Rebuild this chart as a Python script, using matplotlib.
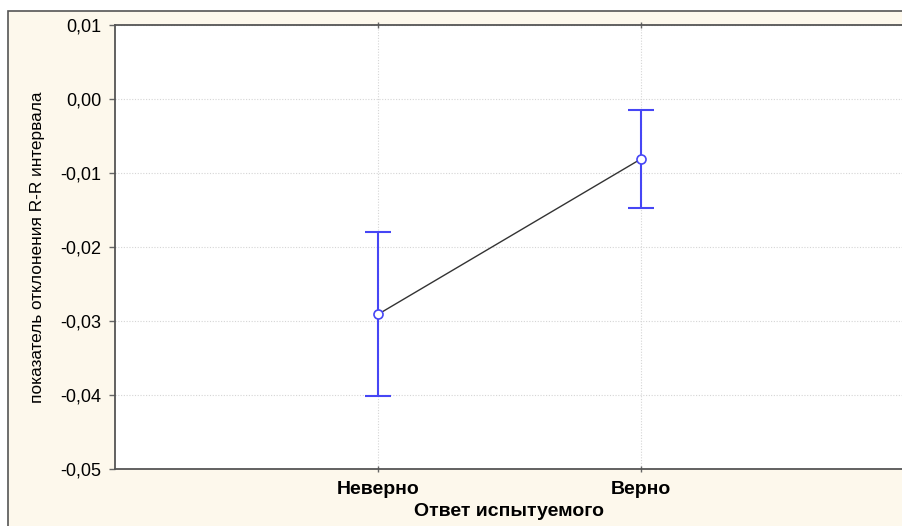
import matplotlib
matplotlib.use("Agg")
import matplotlib.pyplot as plt
from matplotlib.patches import Rectangle

categories = ["Неверно", "Верно"]
means = [-0.0291, -0.0081]
err_low = [0.0110, 0.0066]
err_high = [0.0111, 0.0066]
yticks = [0.01, 0.00, -0.01, -0.02, -0.03, -0.04, -0.05]
ytick_labels = ["0,01", "0,00", "-0,01", "-0,02", "-0,03", "-0,04", "-0,05"]
xlabel = "Ответ испытуемого"
ylabel = "показатель отклонения R-R интервала"

plt.rcParams['font.family'] = ['Liberation Sans', 'DejaVu Sans']

W, H = 903, 526
fig = plt.figure(figsize=(W / 100, H / 100), dpi=100, facecolor="white")
# cream panel with border
fig.patches.append(Rectangle((8 / W, -0.05), 1.1, 1 - 11 / H + 0.05,
                             transform=fig.transFigure, facecolor="#fdf8ec",
                             edgecolor="#555555", linewidth=1.2, zorder=-5))

ax = fig.add_axes([115 / W, 1 - 469 / H, (904 - 115) / W, (469 - 25) / H])
ax.set_zorder(1)
ax.set_facecolor("white")

x = list(range(1, len(categories) + 1))
ax.plot(x, means, color="#333333", linewidth=1.0, zorder=2)
ax.errorbar(x, means, yerr=[err_low, err_high], fmt="none", ecolor="#4646f5",
            elinewidth=1.5, capsize=9.7, capthick=1.5, zorder=3)
ax.plot(x, means, linestyle="none", marker="o", markersize=6.5,
        markerfacecolor="white", markeredgecolor="#4646f5", markeredgewidth=1.2, zorder=4)

ax.set_xlim(0, 3)
ax.set_ylim(-0.05, 0.01)
ax.set_xticks(x)
ax.set_xticklabels(categories, fontsize=14, fontweight="bold")
ax.set_yticks(yticks)
ax.set_yticklabels(ytick_labels, fontsize=13)
ax.tick_params(axis="y", direction="out", length=4, width=1, color="#666666", pad=6, right=True)
ax.tick_params(axis="x", direction="inout", length=4, width=1, color="#666666", pad=7, top=True)

ax.grid(True, color="#d5d5d5", linestyle=(0, (1, 1.5)), linewidth=0.8)
ax.set_axisbelow(True)
for s in ax.spines.values():
    s.set_color("#555555")
    s.set_linewidth(1.3)

ax.set_xlabel(xlabel, fontsize=14, fontweight="bold", labelpad=3)
ax.set_ylabel(ylabel, fontsize=12.4)
ax.yaxis.set_label_coords(-70 / (904 - 115), 0.5)

fig.savefig("out.png", dpi=100, facecolor=fig.get_facecolor())
